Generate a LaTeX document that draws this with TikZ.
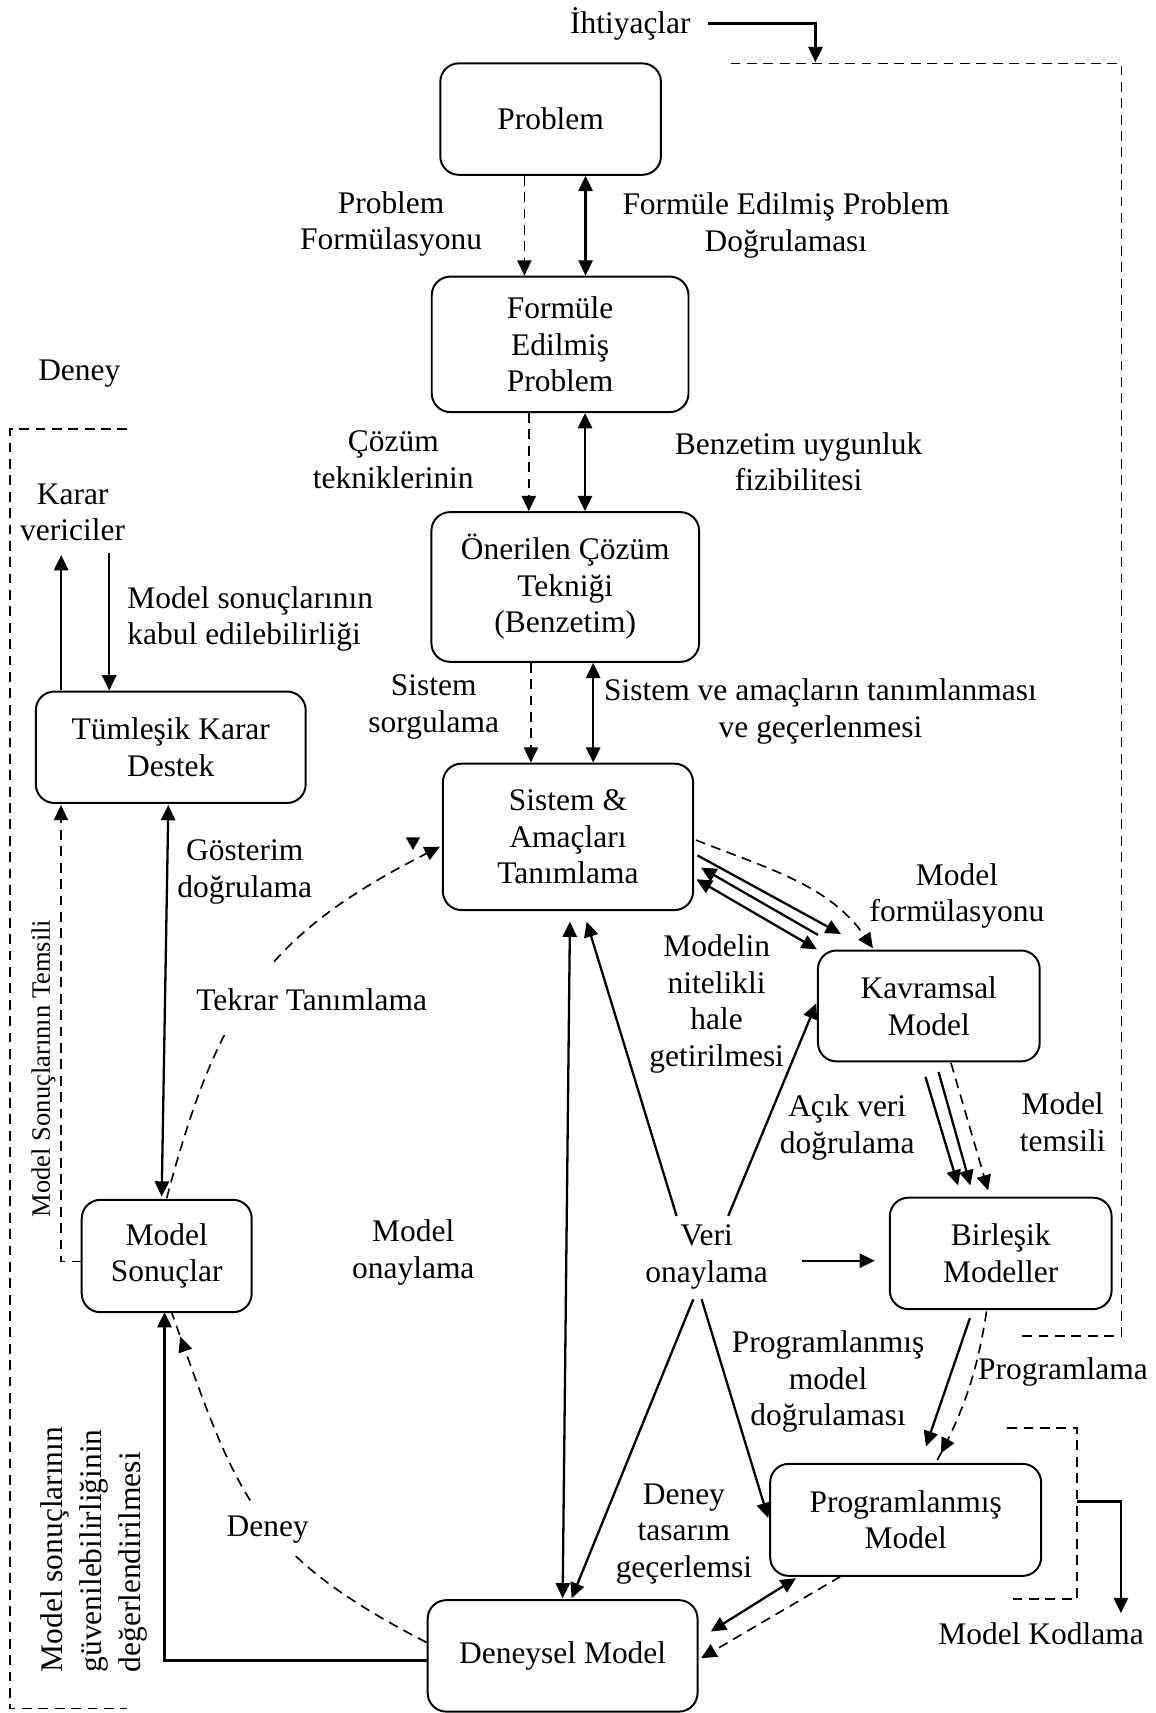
\documentclass[tikz,border=0pt]{standalone}
\usepackage{fontspec}
\setmainfont{Liberation Serif}
\usetikzlibrary{arrows.meta,decorations.markings}

\begin{document}
\begin{tikzpicture}[x=1pt,y=-1pt,
  font=\fontsize{28.8}{33.5}\selectfont,
  ah/.tip={Triangle[length=14pt,width=13pt]},
  box/.style={draw, line width=1.8pt, rounded corners=17pt, align=center, inner sep=0pt},
  lbl/.style={align=center, inner sep=0pt},
  arr/.style={line width=2.1pt, -ah},
  arrb/.style={line width=2.1pt, ah-ah},
  dline/.style={line width=1.5pt, dash pattern=on 9pt off 6pt},
  darr/.style={dline, -ah},
  midtip/.style={postaction={decorate}, decoration={markings, mark=at position #1 with {\arrow{ah}}}}
]
\fill[white] (0,0) rectangle (1058,1568);

% main boxes
\node[box, minimum width=202pt, minimum height=102pt] (prob) at (504,109) {Problem};
\node[box, minimum width=235pt, minimum height=124pt] (form) at (512.7,315.2) {Formüle\\Edilmiş\\Problem};
\node[box, minimum width=245pt, minimum height=137pt] (oner) at (517.4,537.3) {Önerilen Çözüm\\Tekniği\\(Benzetim)};
\node[box, minimum width=229pt, minimum height=134pt] (sis) at (519.9,766) {Sistem \&\\Amaçları\\Tanımlama};
\node[box, minimum width=203pt, minimum height=101.5pt] (kav) at (850.2,920.8) {Kavramsal\\Model};
\node[box, minimum width=203pt, minimum height=102pt] (bir) at (916,1147.3) {Birleşik\\Modeller};
\node[box, minimum width=248pt, minimum height=102.5pt] (prog) at (829,1391.2) {Programlanmış\\Model};
\node[box, minimum width=247pt, minimum height=102pt] (den) at (515,1515.7) {Deneysel Model};
\node[box, minimum width=155.6pt, minimum height=102.8pt] (ms) at (152.6,1149.7) {Model\\Sonuçlar};
\node[box, minimum width=247pt, minimum height=102pt] (tum) at (156.3,684) {Tümleşik Karar\\Destek};

% free labels
\node[lbl] (iht) at (577,22) {İhtiyaçlar};
\node[lbl] (lpf) at (358,205) {Problem\\Formülasyonu};
\node[lbl] (lfpd) at (719.4,206.6) {Formüle Edilmiş Problem\\Doğrulaması};
\node[lbl] (lct) at (360,421) {Çözüm\\tekniklerinin};
\node[lbl] (lbuf) at (731,422.5) {Benzetim uygunluk\\fizibilitesi};
\node[lbl] (lss) at (397,647) {Sistem\\sorgulama};
\node[lbl] (lsat) at (751,651.4) {Sistem ve amaçların tanımlanması\\ve geçerlenmesi};
\node[lbl] (lmf) at (876,820) {Model\\formülasyonu};
\node[lbl] (lmn) at (656,919) {Modelin\\nitelikli\\hale\\getirilmesi};
\node[lbl] (lavd) at (775.5,1032) {Açık veri\\doğrulama};
\node[lbl] (lmt) at (972.7,1027.5) {Model\\temsili};
\node[lbl] (veri) at (646.8,1150.8) {Veri\\onaylama};
\node[lbl] (lmo) at (378.3,1146.3) {Model\\onaylama};
\node[lbl] (ldtg) at (626,1404) {Deney\\tasarım\\geçerlemsi};
\node[lbl] (lpmd) at (758,1264.6) {Programlanmış\\model\\doğrulaması};
\node[lbl] (lprg) at (973,1256) {Programlama};
\node[lbl] (lmk) at (953,1495) {Model Kodlama};
\node[lbl] (lgd) at (224,798) {Gösterim\\doğrulama};
\node[lbl] (ldeney) at (72.6,341.7) {Deney};
\node[lbl] (karar) at (66.5,469) {Karar\\vericiler};
\node[lbl, anchor=west, align=left] (lmsk) at (116.5,566.5) {Model sonuçlarının\\kabul edilebilirliği};
\node[lbl, rotate=90, font=\fontsize{24.3}{28}\selectfont] (lmst) at (39.7,978) {Model Sonuçlarının Temsili};
\node[lbl, rotate=90, anchor=west, align=left, font=\fontsize{28.8}{36}\selectfont] (lmsg) at (86,1531) {Model sonuçlarının\\güvenilebilirliğinin\\değerlendirilmesi};

% dashed frames
\coordinate (ihtEnd) at (746.4,57);
\draw[dline] (668.7,58) -- (1026.7,58) -- (1026.7,1223) -- (933.5,1223);
\draw[dline] (116.5,392.6) -- (9,392.6) -- (9,1564) -- (116,1564);
\coordinate (mkb) at (985.8,1374.4);
\draw[dline] (922,1307.3) -- (985.8,1307.3) -- (985.8,1463.5) -- (922,1463.5);

% needs
\draw[arr] ([shift={(71.4,-0.6)}]iht.center) -| (ihtEnd);

% vertical chain
\draw[darr] ([xshift=-24pt]prob.south) -- ([xshift=-32.7pt]form.north);
\draw[arrb] ([xshift=32pt]prob.south) -- ([xshift=23.3pt]form.north);
\draw[darr] ([xshift=-28.7pt]form.south) -- ([xshift=-33.4pt]oner.north);
\draw[arrb] ([xshift=22.8pt]form.south) -- ([xshift=18.1pt]oner.north);
\draw[darr] ([xshift=-31.4pt]oner.south) -- ([xshift=-33.9pt]sis.north);
\draw[arrb] ([xshift=25.6pt]oner.south) -- ([xshift=23.1pt]sis.north);

% system <-> conceptual model
\draw[darr] ([shift={(117.1,3)}]sis.center) .. controls +(65.1,25.7) and +(-39.4,-57.8) .. ([shift={(-51.2,-52.8)}]kav.center);
\draw[arr] ([shift={(118.5,17)}]sis.center) -- ([shift={(-80.4,-65.9)}]kav.center);
\draw[arr] ([shift={(-101.4,-65)}]kav.center) -- ([shift={(121.8,28.2)}]sis.center);
\draw[arrb] ([shift={(117.6,38.8)}]sis.center) -- ([shift={(-102.4,-51.8)}]kav.center);

% conceptual -> combined
\draw[arr] ([shift={(-3.1,64.9)}]kav.center) -- ([shift={(-39,-62.2)}]bir.center);
\draw[arr] ([shift={(8.9,60.4)}]kav.center) -- ([shift={(-27.7,-62.2)}]bir.center);
\draw[darr] ([shift={(20.3,52.2)}]kav.center) -- ([shift={(-11.5,-57.6)}]bir.center);

% data validation
\draw[arr] ([shift={(-27.5,-37.8)}]veri.center) -- ([shift={(17.1,77.6)}]sis.center);
\draw[arr] ([shift={(19.8,-37.8)}]veri.center) -- ([shift={(-103.1,-2.3)}]kav.center);
\draw[arrb] ([shift={(1.8,77.6)}]sis.center) -- ([shift={(0,-52.7)}]den.center);
\draw[arr] ([shift={(-12.2,38.5)}]veri.center) -- ([shift={(8.2,-52.7)}]den.center);
\draw[arr] ([shift={(-4.6,38.5)}]veri.center) -- ([shift={(-125.8,-1.6)}]prog.center);
\draw[arr] ([shift={(87.3,3.2)}]veri.center) -- ([shift={(-115.2,6.7)}]bir.center);

% combined -> programmed
\draw[arr] ([shift={(-28.2,59.3)}]bir.center) -- ([shift={(18.5,-67.2)}]prog.center);
\draw[dline, midtip=0.93] ([shift={(-13,53.2)}]bir.center) .. controls +(-9,59) and +(24,-44) .. ([shift={(27.4,-51.9)}]prog.center);
\draw[arr] (mkb) -| ([shift={(73,-18.4)}]lmk.center);

% programmed <-> experimental
\draw[arrb] ([shift={(-100.4,53.4)}]prog.center) -- ([shift={(135.6,-22.3)}]den.center);
\draw[darr] ([shift={(-59.6,51.8)}]prog.center) -- ([shift={(126.8,2.1)}]den.center);

% experimental -> results
\draw[arr] ([shift={(-123.6,4.3)}]den.center) -| ([shift={(-2,51.3)}]ms.center);
\draw[dline, midtip=0.94] ([shift={(-124.5,-12.3)}]den.center) .. controls +(-160,-82.4) and +(60,168) .. ([shift={(4.4,51.3)}]ms.center);
\node[lbl, fill=white, inner xsep=3pt, inner ysep=12pt] (ldn) at (245,1400) {Deney};

% results <-> decision support, redefinition
\draw[arrb] ([shift={(-2.2,52.8)}]tum.center) -- ([shift={(-4.6,-54.4)}]ms.center);
\draw[darr] ([shift={(0,-53)}]ms.center) .. controls +(46.5,-175) and +(-159.7,81) .. ([shift={(-117.2,9)}]sis.center);
\fill (371.5,766.5) -- (384.5,766.5) -- (378,778) -- cycle;
\node[lbl, fill=white, inner xsep=4pt, inner ysep=22pt] (ltt) at (285.3,915.2) {Tekrar Tanımlama};
\draw[darr] ([shift={(-77.8,5)}]ms.center) -| ([shift={(-100.5,52.8)}]tum.center);

% decision makers
\draw[arr] ([shift={(-100.3,-52)}]tum.center) -- ([shift={(-10.5,39)}]karar.center);
\draw[arr] ([shift={(33.5,37.5)}]karar.center) -- ([shift={(-56.3,-52)}]tum.center);
\end{tikzpicture}
\end{document}
